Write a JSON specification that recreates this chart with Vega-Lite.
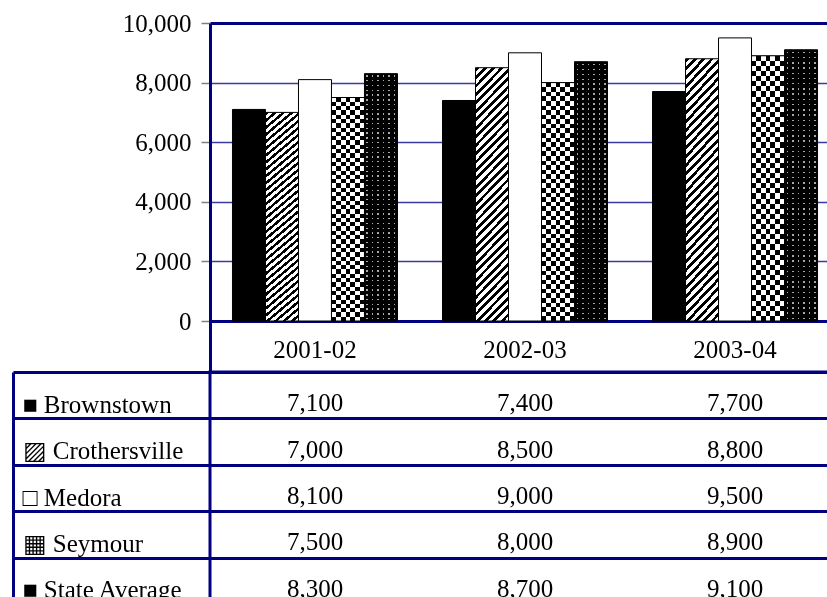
{
  "$schema": "https://vega.github.io/schema/vega-lite/v6.json",
  "background": "white",
  "padding": {"left": 10, "top": 11, "right": 0, "bottom": 0},
  "spacing": -3,
  "config": {"view": {"stroke": null}},
  "datasets": {
    "spending": [
      {"year": "2001-02", "series": "Brownstown", "value": 7100},
      {"year": "2001-02", "series": "Crothersville", "value": 7000},
      {"year": "2001-02", "series": "Medora", "value": 8100},
      {"year": "2001-02", "series": "Seymour", "value": 7500},
      {"year": "2001-02", "series": "State Average", "value": 8300},
      {"year": "2002-03", "series": "Brownstown", "value": 7400},
      {"year": "2002-03", "series": "Crothersville", "value": 8500},
      {"year": "2002-03", "series": "Medora", "value": 9000},
      {"year": "2002-03", "series": "Seymour", "value": 8000},
      {"year": "2002-03", "series": "State Average", "value": 8700},
      {"year": "2003-04", "series": "Brownstown", "value": 7700},
      {"year": "2003-04", "series": "Crothersville", "value": 8800},
      {"year": "2003-04", "series": "Medora", "value": 9500},
      {"year": "2003-04", "series": "Seymour", "value": 8900},
      {"year": "2003-04", "series": "State Average", "value": 9100}
    ]
  },
  "vconcat": [
    {
      "width": 630,
      "height": 349,
      "data": {"name": "spending"},
      "encoding": {
        "x": {
          "field": "year", "type": "nominal",
          "scale": {"paddingInner": 0.2143, "paddingOuter": 0.107},
          "axis": {"title": null, "domain": false, "ticks": false, "tickSize": 0, "labelAngle": 0,
                   "labelFont": "Liberation Serif", "labelFontSize": 25, "labelColor": "#000",
                   "labelPadding": -15, "labelBaseline": "alphabetic"}
        },
        "xOffset": {
          "field": "series", "type": "nominal",
          "scale": {"domain": ["Brownstown", "Crothersville", "Medora", "Seymour", "State Average"], "paddingInner": 0, "paddingOuter": 0}
        },
        "y": {
          "field": "value", "type": "quantitative",
          "scale": {"domain": [-1711, 10000], "nice": false, "zero": false},
          "axis": {"title": null, "values": [0, 2000, 4000, 6000, 8000, 10000], "format": ",d",
                   "labelFont": "Liberation Serif", "labelFontSize": 25, "labelColor": "#000", "labelPadding": 10,
                   "tickSize": 9, "tickColor": "#808080", "tickWidth": 1.5,
                   "domainColor": "#000080", "domainWidth": 3,
                   "grid": true,
                   "gridColor": {"condition": {"test": "datum.value === 0 || datum.value === 10000", "value": "#000080"}, "value": "#3b3ba3"},
                   "gridWidth": {"condition": {"test": "datum.value === 0 || datum.value === 10000", "value": 3}, "value": 1.5}}
        },
        "y2": {"datum": 0}
      },
      "layer": [
        {
          "transform": [{"filter": "datum.series === 'Brownstown'"}],
          "mark": {"type": "bar", "fill": "#000", "strokeWidth": 0}
        },
        {
          "transform": [{"filter": "datum.series === 'Crothersville'"}],
          "mark": {"type": "bar", "strokeWidth": 0, "fill": {"gradient": "linear", "x1": 0, "y1": 0, "x2": 0.1747, "y2": 1.31, "stops": [
            {"offset": 0, "color": "#000"}, {"offset": 0.0115, "color": "#000"}, {"offset": 0.0115, "color": "#fff"}, {"offset": 0.025, "color": "#fff"},
            {"offset": 0.025, "color": "#000"}, {"offset": 0.0365, "color": "#000"}, {"offset": 0.0365, "color": "#fff"}, {"offset": 0.05, "color": "#fff"},
            {"offset": 0.05, "color": "#000"}, {"offset": 0.0615, "color": "#000"}, {"offset": 0.0615, "color": "#fff"}, {"offset": 0.075, "color": "#fff"},
            {"offset": 0.075, "color": "#000"}, {"offset": 0.0865, "color": "#000"}, {"offset": 0.0865, "color": "#fff"}, {"offset": 0.1, "color": "#fff"},
            {"offset": 0.1, "color": "#000"}, {"offset": 0.1115, "color": "#000"}, {"offset": 0.1115, "color": "#fff"}, {"offset": 0.125, "color": "#fff"},
            {"offset": 0.125, "color": "#000"}, {"offset": 0.1365, "color": "#000"}, {"offset": 0.1365, "color": "#fff"}, {"offset": 0.15, "color": "#fff"},
            {"offset": 0.15, "color": "#000"}, {"offset": 0.1615, "color": "#000"}, {"offset": 0.1615, "color": "#fff"}, {"offset": 0.175, "color": "#fff"},
            {"offset": 0.175, "color": "#000"}, {"offset": 0.1865, "color": "#000"}, {"offset": 0.1865, "color": "#fff"}, {"offset": 0.2, "color": "#fff"},
            {"offset": 0.2, "color": "#000"}, {"offset": 0.2115, "color": "#000"}, {"offset": 0.2115, "color": "#fff"}, {"offset": 0.225, "color": "#fff"},
            {"offset": 0.225, "color": "#000"}, {"offset": 0.2365, "color": "#000"}, {"offset": 0.2365, "color": "#fff"}, {"offset": 0.25, "color": "#fff"},
            {"offset": 0.25, "color": "#000"}, {"offset": 0.2615, "color": "#000"}, {"offset": 0.2615, "color": "#fff"}, {"offset": 0.275, "color": "#fff"},
            {"offset": 0.275, "color": "#000"}, {"offset": 0.2865, "color": "#000"}, {"offset": 0.2865, "color": "#fff"}, {"offset": 0.3, "color": "#fff"},
            {"offset": 0.3, "color": "#000"}, {"offset": 0.3115, "color": "#000"}, {"offset": 0.3115, "color": "#fff"}, {"offset": 0.325, "color": "#fff"},
            {"offset": 0.325, "color": "#000"}, {"offset": 0.3365, "color": "#000"}, {"offset": 0.3365, "color": "#fff"}, {"offset": 0.35, "color": "#fff"},
            {"offset": 0.35, "color": "#000"}, {"offset": 0.3615, "color": "#000"}, {"offset": 0.3615, "color": "#fff"}, {"offset": 0.375, "color": "#fff"},
            {"offset": 0.375, "color": "#000"}, {"offset": 0.3865, "color": "#000"}, {"offset": 0.3865, "color": "#fff"}, {"offset": 0.4, "color": "#fff"},
            {"offset": 0.4, "color": "#000"}, {"offset": 0.4115, "color": "#000"}, {"offset": 0.4115, "color": "#fff"}, {"offset": 0.425, "color": "#fff"},
            {"offset": 0.425, "color": "#000"}, {"offset": 0.4365, "color": "#000"}, {"offset": 0.4365, "color": "#fff"}, {"offset": 0.45, "color": "#fff"},
            {"offset": 0.45, "color": "#000"}, {"offset": 0.4615, "color": "#000"}, {"offset": 0.4615, "color": "#fff"}, {"offset": 0.475, "color": "#fff"},
            {"offset": 0.475, "color": "#000"}, {"offset": 0.4865, "color": "#000"}, {"offset": 0.4865, "color": "#fff"}, {"offset": 0.5, "color": "#fff"},
            {"offset": 0.5, "color": "#000"}, {"offset": 0.5115, "color": "#000"}, {"offset": 0.5115, "color": "#fff"}, {"offset": 0.525, "color": "#fff"},
            {"offset": 0.525, "color": "#000"}, {"offset": 0.5365, "color": "#000"}, {"offset": 0.5365, "color": "#fff"}, {"offset": 0.55, "color": "#fff"},
            {"offset": 0.55, "color": "#000"}, {"offset": 0.5615, "color": "#000"}, {"offset": 0.5615, "color": "#fff"}, {"offset": 0.575, "color": "#fff"},
            {"offset": 0.575, "color": "#000"}, {"offset": 0.5865, "color": "#000"}, {"offset": 0.5865, "color": "#fff"}, {"offset": 0.6, "color": "#fff"},
            {"offset": 0.6, "color": "#000"}, {"offset": 0.6115, "color": "#000"}, {"offset": 0.6115, "color": "#fff"}, {"offset": 0.625, "color": "#fff"},
            {"offset": 0.625, "color": "#000"}, {"offset": 0.6365, "color": "#000"}, {"offset": 0.6365, "color": "#fff"}, {"offset": 0.65, "color": "#fff"},
            {"offset": 0.65, "color": "#000"}, {"offset": 0.6615, "color": "#000"}, {"offset": 0.6615, "color": "#fff"}, {"offset": 0.675, "color": "#fff"},
            {"offset": 0.675, "color": "#000"}, {"offset": 0.6865, "color": "#000"}, {"offset": 0.6865, "color": "#fff"}, {"offset": 0.7, "color": "#fff"},
            {"offset": 0.7, "color": "#000"}, {"offset": 0.7115, "color": "#000"}, {"offset": 0.7115, "color": "#fff"}, {"offset": 0.725, "color": "#fff"},
            {"offset": 0.725, "color": "#000"}, {"offset": 0.7365, "color": "#000"}, {"offset": 0.7365, "color": "#fff"}, {"offset": 0.75, "color": "#fff"},
            {"offset": 0.75, "color": "#000"}, {"offset": 0.7615, "color": "#000"}, {"offset": 0.7615, "color": "#fff"}, {"offset": 0.775, "color": "#fff"},
            {"offset": 0.775, "color": "#000"}, {"offset": 0.7865, "color": "#000"}, {"offset": 0.7865, "color": "#fff"}, {"offset": 0.8, "color": "#fff"},
            {"offset": 0.8, "color": "#000"}, {"offset": 0.8115, "color": "#000"}, {"offset": 0.8115, "color": "#fff"}, {"offset": 0.825, "color": "#fff"},
            {"offset": 0.825, "color": "#000"}, {"offset": 0.8365, "color": "#000"}, {"offset": 0.8365, "color": "#fff"}, {"offset": 0.85, "color": "#fff"},
            {"offset": 0.85, "color": "#000"}, {"offset": 0.8615, "color": "#000"}, {"offset": 0.8615, "color": "#fff"}, {"offset": 0.875, "color": "#fff"},
            {"offset": 0.875, "color": "#000"}, {"offset": 0.8865, "color": "#000"}, {"offset": 0.8865, "color": "#fff"}, {"offset": 0.9, "color": "#fff"},
            {"offset": 0.9, "color": "#000"}, {"offset": 0.9115, "color": "#000"}, {"offset": 0.9115, "color": "#fff"}, {"offset": 0.925, "color": "#fff"},
            {"offset": 0.925, "color": "#000"}, {"offset": 0.9365, "color": "#000"}, {"offset": 0.9365, "color": "#fff"}, {"offset": 0.95, "color": "#fff"},
            {"offset": 0.95, "color": "#000"}, {"offset": 0.9615, "color": "#000"}, {"offset": 0.9615, "color": "#fff"}, {"offset": 0.975, "color": "#fff"},
            {"offset": 0.975, "color": "#000"}, {"offset": 0.9865, "color": "#000"}, {"offset": 0.9865, "color": "#fff"}, {"offset": 1, "color": "#fff"}
          ]}}
        },
        {
          "transform": [{"filter": "datum.series === 'Medora'"}],
          "mark": {"type": "bar", "fill": "#fff", "strokeWidth": 0}
        },
        {
          "transform": [{"filter": "datum.series === 'Seymour'"}],
          "mark": {"type": "bar", "strokeWidth": 0, "fill": {"gradient": "linear", "x1": 0, "y1": 0, "x2": 1, "y2": 0, "stops": [
            {"offset": 0, "color": "#000"}, {"offset": 0.1429, "color": "#000"}, {"offset": 0.1429, "color": "#fff"}, {"offset": 0.2857, "color": "#fff"},
            {"offset": 0.2857, "color": "#000"}, {"offset": 0.4286, "color": "#000"}, {"offset": 0.4286, "color": "#fff"}, {"offset": 0.5714, "color": "#fff"},
            {"offset": 0.5714, "color": "#000"}, {"offset": 0.7143, "color": "#000"}, {"offset": 0.7143, "color": "#fff"}, {"offset": 0.8571, "color": "#fff"},
            {"offset": 0.8571, "color": "#000"}, {"offset": 1, "color": "#000"}
          ]}}
        },
        {
          "transform": [{"filter": "datum.series === 'Seymour'"}],
          "mark": {"type": "bar", "strokeWidth": 0, "blend": "difference", "fill": {"gradient": "linear", "x1": 0, "y1": 0, "x2": 0, "y2": 1, "stops": [
            {"offset": 0, "color": "#fff"}, {"offset": 0.0192, "color": "#fff"}, {"offset": 0.0192, "color": "#000"}, {"offset": 0.0385, "color": "#000"},
            {"offset": 0.0385, "color": "#fff"}, {"offset": 0.0577, "color": "#fff"}, {"offset": 0.0577, "color": "#000"}, {"offset": 0.0769, "color": "#000"},
            {"offset": 0.0769, "color": "#fff"}, {"offset": 0.0962, "color": "#fff"}, {"offset": 0.0962, "color": "#000"}, {"offset": 0.1154, "color": "#000"},
            {"offset": 0.1154, "color": "#fff"}, {"offset": 0.1346, "color": "#fff"}, {"offset": 0.1346, "color": "#000"}, {"offset": 0.1538, "color": "#000"},
            {"offset": 0.1538, "color": "#fff"}, {"offset": 0.1731, "color": "#fff"}, {"offset": 0.1731, "color": "#000"}, {"offset": 0.1923, "color": "#000"},
            {"offset": 0.1923, "color": "#fff"}, {"offset": 0.2115, "color": "#fff"}, {"offset": 0.2115, "color": "#000"}, {"offset": 0.2308, "color": "#000"},
            {"offset": 0.2308, "color": "#fff"}, {"offset": 0.25, "color": "#fff"}, {"offset": 0.25, "color": "#000"}, {"offset": 0.2692, "color": "#000"},
            {"offset": 0.2692, "color": "#fff"}, {"offset": 0.2885, "color": "#fff"}, {"offset": 0.2885, "color": "#000"}, {"offset": 0.3077, "color": "#000"},
            {"offset": 0.3077, "color": "#fff"}, {"offset": 0.3269, "color": "#fff"}, {"offset": 0.3269, "color": "#000"}, {"offset": 0.3462, "color": "#000"},
            {"offset": 0.3462, "color": "#fff"}, {"offset": 0.3654, "color": "#fff"}, {"offset": 0.3654, "color": "#000"}, {"offset": 0.3846, "color": "#000"},
            {"offset": 0.3846, "color": "#fff"}, {"offset": 0.4038, "color": "#fff"}, {"offset": 0.4038, "color": "#000"}, {"offset": 0.4231, "color": "#000"},
            {"offset": 0.4231, "color": "#fff"}, {"offset": 0.4423, "color": "#fff"}, {"offset": 0.4423, "color": "#000"}, {"offset": 0.4615, "color": "#000"},
            {"offset": 0.4615, "color": "#fff"}, {"offset": 0.4808, "color": "#fff"}, {"offset": 0.4808, "color": "#000"}, {"offset": 0.5, "color": "#000"},
            {"offset": 0.5, "color": "#fff"}, {"offset": 0.5192, "color": "#fff"}, {"offset": 0.5192, "color": "#000"}, {"offset": 0.5385, "color": "#000"},
            {"offset": 0.5385, "color": "#fff"}, {"offset": 0.5577, "color": "#fff"}, {"offset": 0.5577, "color": "#000"}, {"offset": 0.5769, "color": "#000"},
            {"offset": 0.5769, "color": "#fff"}, {"offset": 0.5962, "color": "#fff"}, {"offset": 0.5962, "color": "#000"}, {"offset": 0.6154, "color": "#000"},
            {"offset": 0.6154, "color": "#fff"}, {"offset": 0.6346, "color": "#fff"}, {"offset": 0.6346, "color": "#000"}, {"offset": 0.6538, "color": "#000"},
            {"offset": 0.6538, "color": "#fff"}, {"offset": 0.6731, "color": "#fff"}, {"offset": 0.6731, "color": "#000"}, {"offset": 0.6923, "color": "#000"},
            {"offset": 0.6923, "color": "#fff"}, {"offset": 0.7115, "color": "#fff"}, {"offset": 0.7115, "color": "#000"}, {"offset": 0.7308, "color": "#000"},
            {"offset": 0.7308, "color": "#fff"}, {"offset": 0.75, "color": "#fff"}, {"offset": 0.75, "color": "#000"}, {"offset": 0.7692, "color": "#000"},
            {"offset": 0.7692, "color": "#fff"}, {"offset": 0.7885, "color": "#fff"}, {"offset": 0.7885, "color": "#000"}, {"offset": 0.8077, "color": "#000"},
            {"offset": 0.8077, "color": "#fff"}, {"offset": 0.8269, "color": "#fff"}, {"offset": 0.8269, "color": "#000"}, {"offset": 0.8462, "color": "#000"},
            {"offset": 0.8462, "color": "#fff"}, {"offset": 0.8654, "color": "#fff"}, {"offset": 0.8654, "color": "#000"}, {"offset": 0.8846, "color": "#000"},
            {"offset": 0.8846, "color": "#fff"}, {"offset": 0.9038, "color": "#fff"}, {"offset": 0.9038, "color": "#000"}, {"offset": 0.9231, "color": "#000"},
            {"offset": 0.9231, "color": "#fff"}, {"offset": 0.9423, "color": "#fff"}, {"offset": 0.9423, "color": "#000"}, {"offset": 0.9615, "color": "#000"},
            {"offset": 0.9615, "color": "#fff"}, {"offset": 0.9808, "color": "#fff"}, {"offset": 0.9808, "color": "#000"}, {"offset": 1, "color": "#000"}
          ]}}
        },
        {
          "transform": [{"filter": "datum.series === 'State Average'"}],
          "mark": {"type": "bar", "strokeWidth": 0, "fill": {"gradient": "linear", "x1": 0, "y1": 0, "x2": 1, "y2": 0, "stops": [
            {"offset": 0, "color": "#000"}, {"offset": 0.061, "color": "#000"}, {"offset": 0.061, "color": "#a8a8a8"}, {"offset": 0.106, "color": "#a8a8a8"}, {"offset": 0.106, "color": "#000"},
            {"offset": 0.2277, "color": "#000"}, {"offset": 0.2277, "color": "#a8a8a8"}, {"offset": 0.2727, "color": "#a8a8a8"}, {"offset": 0.2727, "color": "#000"},
            {"offset": 0.3943, "color": "#000"}, {"offset": 0.3943, "color": "#a8a8a8"}, {"offset": 0.4393, "color": "#a8a8a8"}, {"offset": 0.4393, "color": "#000"},
            {"offset": 0.561, "color": "#000"}, {"offset": 0.561, "color": "#a8a8a8"}, {"offset": 0.606, "color": "#a8a8a8"}, {"offset": 0.606, "color": "#000"},
            {"offset": 0.7277, "color": "#000"}, {"offset": 0.7277, "color": "#a8a8a8"}, {"offset": 0.7727, "color": "#a8a8a8"}, {"offset": 0.7727, "color": "#000"},
            {"offset": 0.8943, "color": "#000"}, {"offset": 0.8943, "color": "#a8a8a8"}, {"offset": 0.9393, "color": "#a8a8a8"}, {"offset": 0.9393, "color": "#000"},
            {"offset": 1, "color": "#000"}
          ]}}
        },
        {
          "transform": [{"filter": "datum.series === 'State Average'"}],
          "mark": {"type": "bar", "strokeWidth": 0, "blend": "multiply", "fill": {"gradient": "linear", "x1": 0, "y1": 0, "x2": 0, "y2": 1, "stops": [
            {"offset": 0, "color": "#000"},
            {"offset": 0.007, "color": "#000"}, {"offset": 0.007, "color": "#fff"}, {"offset": 0.0124, "color": "#fff"}, {"offset": 0.0124, "color": "#000"},
            {"offset": 0.0262, "color": "#000"}, {"offset": 0.0262, "color": "#fff"}, {"offset": 0.0316, "color": "#fff"}, {"offset": 0.0316, "color": "#000"},
            {"offset": 0.0455, "color": "#000"}, {"offset": 0.0455, "color": "#fff"}, {"offset": 0.0509, "color": "#fff"}, {"offset": 0.0509, "color": "#000"},
            {"offset": 0.0647, "color": "#000"}, {"offset": 0.0647, "color": "#fff"}, {"offset": 0.0701, "color": "#fff"}, {"offset": 0.0701, "color": "#000"},
            {"offset": 0.0839, "color": "#000"}, {"offset": 0.0839, "color": "#fff"}, {"offset": 0.0893, "color": "#fff"}, {"offset": 0.0893, "color": "#000"},
            {"offset": 0.1032, "color": "#000"}, {"offset": 0.1032, "color": "#fff"}, {"offset": 0.1086, "color": "#fff"}, {"offset": 0.1086, "color": "#000"},
            {"offset": 0.1224, "color": "#000"}, {"offset": 0.1224, "color": "#fff"}, {"offset": 0.1278, "color": "#fff"}, {"offset": 0.1278, "color": "#000"},
            {"offset": 0.1416, "color": "#000"}, {"offset": 0.1416, "color": "#fff"}, {"offset": 0.147, "color": "#fff"}, {"offset": 0.147, "color": "#000"},
            {"offset": 0.1608, "color": "#000"}, {"offset": 0.1608, "color": "#fff"}, {"offset": 0.1662, "color": "#fff"}, {"offset": 0.1662, "color": "#000"},
            {"offset": 0.1801, "color": "#000"}, {"offset": 0.1801, "color": "#fff"}, {"offset": 0.1855, "color": "#fff"}, {"offset": 0.1855, "color": "#000"},
            {"offset": 0.1993, "color": "#000"}, {"offset": 0.1993, "color": "#fff"}, {"offset": 0.2047, "color": "#fff"}, {"offset": 0.2047, "color": "#000"},
            {"offset": 0.2185, "color": "#000"}, {"offset": 0.2185, "color": "#fff"}, {"offset": 0.2239, "color": "#fff"}, {"offset": 0.2239, "color": "#000"},
            {"offset": 0.2378, "color": "#000"}, {"offset": 0.2378, "color": "#fff"}, {"offset": 0.2432, "color": "#fff"}, {"offset": 0.2432, "color": "#000"},
            {"offset": 0.257, "color": "#000"}, {"offset": 0.257, "color": "#fff"}, {"offset": 0.2624, "color": "#fff"}, {"offset": 0.2624, "color": "#000"},
            {"offset": 0.2762, "color": "#000"}, {"offset": 0.2762, "color": "#fff"}, {"offset": 0.2816, "color": "#fff"}, {"offset": 0.2816, "color": "#000"},
            {"offset": 0.2955, "color": "#000"}, {"offset": 0.2955, "color": "#fff"}, {"offset": 0.3009, "color": "#fff"}, {"offset": 0.3009, "color": "#000"},
            {"offset": 0.3147, "color": "#000"}, {"offset": 0.3147, "color": "#fff"}, {"offset": 0.3201, "color": "#fff"}, {"offset": 0.3201, "color": "#000"},
            {"offset": 0.3339, "color": "#000"}, {"offset": 0.3339, "color": "#fff"}, {"offset": 0.3393, "color": "#fff"}, {"offset": 0.3393, "color": "#000"},
            {"offset": 0.3532, "color": "#000"}, {"offset": 0.3532, "color": "#fff"}, {"offset": 0.3586, "color": "#fff"}, {"offset": 0.3586, "color": "#000"},
            {"offset": 0.3724, "color": "#000"}, {"offset": 0.3724, "color": "#fff"}, {"offset": 0.3778, "color": "#fff"}, {"offset": 0.3778, "color": "#000"},
            {"offset": 0.3916, "color": "#000"}, {"offset": 0.3916, "color": "#fff"}, {"offset": 0.397, "color": "#fff"}, {"offset": 0.397, "color": "#000"},
            {"offset": 0.4108, "color": "#000"}, {"offset": 0.4108, "color": "#fff"}, {"offset": 0.4162, "color": "#fff"}, {"offset": 0.4162, "color": "#000"},
            {"offset": 0.4301, "color": "#000"}, {"offset": 0.4301, "color": "#fff"}, {"offset": 0.4355, "color": "#fff"}, {"offset": 0.4355, "color": "#000"},
            {"offset": 0.4493, "color": "#000"}, {"offset": 0.4493, "color": "#fff"}, {"offset": 0.4547, "color": "#fff"}, {"offset": 0.4547, "color": "#000"},
            {"offset": 0.4685, "color": "#000"}, {"offset": 0.4685, "color": "#fff"}, {"offset": 0.4739, "color": "#fff"}, {"offset": 0.4739, "color": "#000"},
            {"offset": 0.4878, "color": "#000"}, {"offset": 0.4878, "color": "#fff"}, {"offset": 0.4932, "color": "#fff"}, {"offset": 0.4932, "color": "#000"},
            {"offset": 0.507, "color": "#000"}, {"offset": 0.507, "color": "#fff"}, {"offset": 0.5124, "color": "#fff"}, {"offset": 0.5124, "color": "#000"},
            {"offset": 0.5262, "color": "#000"}, {"offset": 0.5262, "color": "#fff"}, {"offset": 0.5316, "color": "#fff"}, {"offset": 0.5316, "color": "#000"},
            {"offset": 0.5455, "color": "#000"}, {"offset": 0.5455, "color": "#fff"}, {"offset": 0.5509, "color": "#fff"}, {"offset": 0.5509, "color": "#000"},
            {"offset": 0.5647, "color": "#000"}, {"offset": 0.5647, "color": "#fff"}, {"offset": 0.5701, "color": "#fff"}, {"offset": 0.5701, "color": "#000"},
            {"offset": 0.5839, "color": "#000"}, {"offset": 0.5839, "color": "#fff"}, {"offset": 0.5893, "color": "#fff"}, {"offset": 0.5893, "color": "#000"},
            {"offset": 0.6032, "color": "#000"}, {"offset": 0.6032, "color": "#fff"}, {"offset": 0.6086, "color": "#fff"}, {"offset": 0.6086, "color": "#000"},
            {"offset": 0.6224, "color": "#000"}, {"offset": 0.6224, "color": "#fff"}, {"offset": 0.6278, "color": "#fff"}, {"offset": 0.6278, "color": "#000"},
            {"offset": 0.6416, "color": "#000"}, {"offset": 0.6416, "color": "#fff"}, {"offset": 0.647, "color": "#fff"}, {"offset": 0.647, "color": "#000"},
            {"offset": 0.6608, "color": "#000"}, {"offset": 0.6608, "color": "#fff"}, {"offset": 0.6662, "color": "#fff"}, {"offset": 0.6662, "color": "#000"},
            {"offset": 0.6801, "color": "#000"}, {"offset": 0.6801, "color": "#fff"}, {"offset": 0.6855, "color": "#fff"}, {"offset": 0.6855, "color": "#000"},
            {"offset": 0.6993, "color": "#000"}, {"offset": 0.6993, "color": "#fff"}, {"offset": 0.7047, "color": "#fff"}, {"offset": 0.7047, "color": "#000"},
            {"offset": 0.7185, "color": "#000"}, {"offset": 0.7185, "color": "#fff"}, {"offset": 0.7239, "color": "#fff"}, {"offset": 0.7239, "color": "#000"},
            {"offset": 0.7378, "color": "#000"}, {"offset": 0.7378, "color": "#fff"}, {"offset": 0.7432, "color": "#fff"}, {"offset": 0.7432, "color": "#000"},
            {"offset": 0.757, "color": "#000"}, {"offset": 0.757, "color": "#fff"}, {"offset": 0.7624, "color": "#fff"}, {"offset": 0.7624, "color": "#000"},
            {"offset": 0.7762, "color": "#000"}, {"offset": 0.7762, "color": "#fff"}, {"offset": 0.7816, "color": "#fff"}, {"offset": 0.7816, "color": "#000"},
            {"offset": 0.7955, "color": "#000"}, {"offset": 0.7955, "color": "#fff"}, {"offset": 0.8009, "color": "#fff"}, {"offset": 0.8009, "color": "#000"},
            {"offset": 0.8147, "color": "#000"}, {"offset": 0.8147, "color": "#fff"}, {"offset": 0.8201, "color": "#fff"}, {"offset": 0.8201, "color": "#000"},
            {"offset": 0.8339, "color": "#000"}, {"offset": 0.8339, "color": "#fff"}, {"offset": 0.8393, "color": "#fff"}, {"offset": 0.8393, "color": "#000"},
            {"offset": 0.8532, "color": "#000"}, {"offset": 0.8532, "color": "#fff"}, {"offset": 0.8586, "color": "#fff"}, {"offset": 0.8586, "color": "#000"},
            {"offset": 0.8724, "color": "#000"}, {"offset": 0.8724, "color": "#fff"}, {"offset": 0.8778, "color": "#fff"}, {"offset": 0.8778, "color": "#000"},
            {"offset": 0.8916, "color": "#000"}, {"offset": 0.8916, "color": "#fff"}, {"offset": 0.897, "color": "#fff"}, {"offset": 0.897, "color": "#000"},
            {"offset": 0.9108, "color": "#000"}, {"offset": 0.9108, "color": "#fff"}, {"offset": 0.9162, "color": "#fff"}, {"offset": 0.9162, "color": "#000"},
            {"offset": 0.9301, "color": "#000"}, {"offset": 0.9301, "color": "#fff"}, {"offset": 0.9355, "color": "#fff"}, {"offset": 0.9355, "color": "#000"},
            {"offset": 0.9493, "color": "#000"}, {"offset": 0.9493, "color": "#fff"}, {"offset": 0.9547, "color": "#fff"}, {"offset": 0.9547, "color": "#000"},
            {"offset": 0.9685, "color": "#000"}, {"offset": 0.9685, "color": "#fff"}, {"offset": 0.9739, "color": "#fff"}, {"offset": 0.9739, "color": "#000"},
            {"offset": 0.9878, "color": "#000"}, {"offset": 0.9878, "color": "#fff"}, {"offset": 0.9932, "color": "#fff"}, {"offset": 0.9932, "color": "#000"},
            {"offset": 1, "color": "#000"}
          ]}}
        },
        {
          "mark": {"type": "bar", "fillOpacity": 0, "stroke": "#000", "strokeWidth": 1}
        }
      ]
    },
    {
      "width": 630,
      "height": 232,
      "data": {"name": "spending"},
      "view": {"stroke": "#000080", "strokeWidth": 3},
      "mark": {"type": "text", "font": "Liberation Serif", "fontSize": 25, "fill": "#000", "baseline": "alphabetic", "dy": 16},
      "encoding": {
        "x": {"field": "year", "type": "nominal", "axis": null, "scale": {"paddingInner": 0, "paddingOuter": 0}},
        "y": {
          "field": "series", "type": "nominal",
          "scale": {"domain": ["Brownstown", "Crothersville", "Medora", "Seymour", "State Average"], "paddingInner": 0, "paddingOuter": 0},
          "axis": {"title": null, "offset": 197,
                   "domainColor": "#000080", "domainWidth": 3,
                   "tickColor": "#000080", "tickWidth": 3, "tickSize": -197, "tickOffset": -23.2,
                   "grid": true, "gridColor": "#000080", "gridWidth": 3,
                   "labelFont": "Liberation Serif", "labelFontSize": 25, "labelColor": "#000",
                   "labelAlign": "left", "labelBaseline": "alphabetic", "labelOffset": 40.2, "labelPadding": 188,
                   "labelExpr": "(datum.value === 'Brownstown' ? '■' : datum.value === 'Crothersville' ? '▨' : datum.value === 'Medora' ? '□' : datum.value === 'Seymour' ? '▦' : '■') + ' ' + datum.value"}
        },
        "text": {"field": "value", "type": "quantitative", "format": ",d"}
      }
    }
  ]
}
